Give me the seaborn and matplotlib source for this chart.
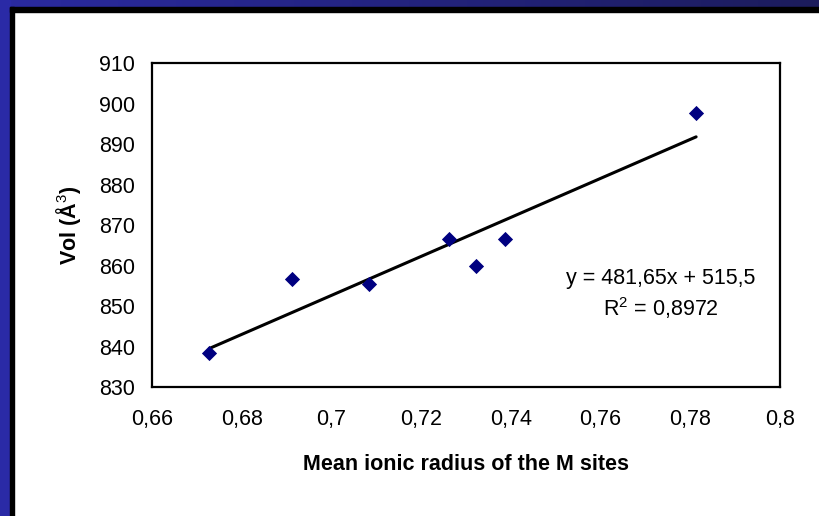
import numpy as np
import matplotlib
matplotlib.use("Agg")
import matplotlib.pyplot as plt
from matplotlib.patches import Rectangle
import seaborn as sns

# mean ionic radius of the M sites vs cell volume
radius = [0.6728, 0.6911, 0.7084, 0.7263, 0.7322, 0.7388, 0.7813]
volume = [838.5, 856.7, 855.6, 866.5, 860.0, 866.5, 897.7]

x_ticks = [0.66, 0.68, 0.70, 0.72, 0.74, 0.76, 0.78, 0.80]
x_tick_labels = ["0,66", "0,68", "0,7", "0,72", "0,74", "0,76", "0,78", "0,8"]
y_ticks = [830, 840, 850, 860, 870, 880, 890, 900, 910]

eq_text = "y = 481,65x + 515,5"
r2_text = "R$^2$ = 0,8972"

sns.set_style("white")
plt.rcParams["font.family"] = ["Liberation Sans", "DejaVu Sans"]
plt.rcParams["mathtext.fontset"] = "custom"
plt.rcParams["mathtext.rm"] = "Liberation Sans"
plt.rcParams["text.color"] = "black"
plt.rcParams["axes.labelcolor"] = "black"

W, H = 819, 516
fig = plt.figure(figsize=(W / 100, H / 100), dpi=100, facecolor="white")

# slide frame: blue/black strips on the left and top
fig.patches.append(Rectangle((0, 0), 10 / W, 1, transform=fig.transFigure,
                             color="#2a2aa6", zorder=0))
fig.patches.append(Rectangle((10 / W, 0), 4 / W, 1 - 7 / H, transform=fig.transFigure,
                             color="black", zorder=0))
fig.patches.append(Rectangle((10 / W, 1 - 12 / H), 1, 5 / H, transform=fig.transFigure,
                             color="black", zorder=0))
top = fig.add_axes([0, 1 - 7 / H, 1, 7 / H])
grad = np.linspace(0, 1, 256)
c0 = np.array([0x2a, 0x2a, 0xa0]) / 255
c1 = np.array([0x1c, 0x1c, 0x5c]) / 255
img = (c0[None, :] * (1 - grad[:, None]) + c1[None, :] * grad[:, None])[None, :, :]
top.imshow(img, aspect="auto", extent=[0, 1, 0, 1])
top.set_axis_off()

ax = fig.add_axes([152 / W, 1 - 387.3 / H, 628 / W, 324 / H])
sns.regplot(x=radius, y=volume, ax=ax, ci=None, marker="D",
            scatter_kws=dict(color="#000080", s=60, linewidths=0, alpha=1, zorder=3),
            line_kws=dict(color="black", lw=2.2, zorder=2))

ax.set_xlim(0.66, 0.80)
ax.set_ylim(830, 910)
ax.set_xticks(x_ticks)
ax.set_xticklabels(x_tick_labels)
ax.set_yticks(y_ticks)

for s in ax.spines.values():
    s.set_visible(True)
    s.set_color("black")
    s.set_linewidth(1.6)
ax.tick_params(axis="both", direction="out", length=4.5, width=1.6,
               labelsize=15.5, colors="black")
ax.tick_params(axis="y", pad=7.5)
ax.tick_params(axis="x", pad=11)

ax.set_xlabel("Mean ionic radius of the M sites", fontsize=15.5, fontweight="bold")
ax.set_ylabel("Vol (Å$^3$)", fontsize=15.5, fontweight="bold")
ax.xaxis.set_label_coords(0.5, -0.205)
ax.yaxis.set_label_coords(-0.110, 0.5)

ax.text(0.810, 0.337, eq_text, transform=ax.transAxes, ha="center", va="center",
        fontsize=15.5)
ax.text(0.810, 0.245, r2_text, transform=ax.transAxes, ha="center", va="center",
        fontsize=15.5)

fig.savefig("out.png", dpi=100, facecolor="white")
